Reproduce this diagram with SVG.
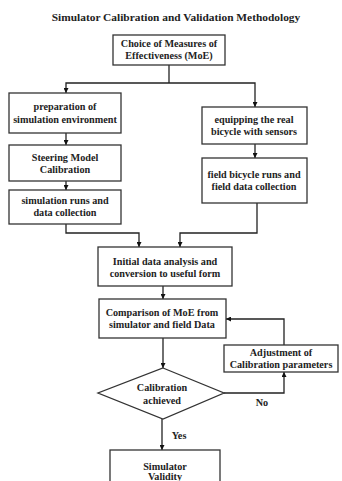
<svg xmlns="http://www.w3.org/2000/svg" width="342" height="481" viewBox="0 0 342 481">
<defs>
<marker id="ah" viewBox="0 0 10 10" refX="10" refY="5" markerWidth="5" markerHeight="5" orient="auto" markerUnits="userSpaceOnUse"><path d="M0,0 L10,5 L0,10 z" fill="#111"/></marker>
<style>
.box{fill:#fff;stroke:#333;stroke-width:1.3}
.t{font-family:"Liberation Serif","Times New Roman",serif;font-weight:bold;font-size:10.2px;fill:#222;text-anchor:middle}
.ttl{font-size:11.4px}
.c{fill:none;stroke:#222;stroke-width:1.3;marker-end:url(#ah)}
.l{fill:none;stroke:#222;stroke-width:1.3}
</style>
</defs>
<rect width="342" height="481" fill="#fff"/>
<text class="t ttl" x="176" y="21">Simulator Calibration and Validation Methodology</text>
<g id="connectors">
<path class="l" d="M169,65 V83"/>
<path class="c" d="M169,83 H66 V93"/>
<path class="c" d="M169,83 H255 V107"/>
<path class="c" d="M66,133 V145"/>
<path class="c" d="M66,181 V190"/>
<path class="c" d="M255,144 V158"/>
<path class="c" d="M66,224 V233 H139 V247"/>
<path class="c" d="M257,203 V233 H180 V247"/>
<path class="c" d="M163,286 V299"/>
<path class="c" d="M163,338 V368"/>
<path class="c" d="M284,345 V319 H226"/>
<path class="c" d="M224,393 H284 V372"/>
<path class="c" d="M162,419 V450"/>
<text class="t" x="262" y="406">No</text>
<text class="t" x="179" y="439">Yes</text>
</g>
<g id="moe"><rect class="box" x="113" y="35" width="112" height="30"/><text class="t" x="169" y="47">Choice of Measures of</text><text class="t" x="169" y="59">Effectiveness (MoE)</text></g>
<g id="prep"><rect class="box" x="9" y="93" width="112" height="40"/><text class="t" x="65" y="110">preparation of</text><text class="t" x="65" y="123">simulation environment</text></g>
<g id="steer"><rect class="box" x="9" y="145" width="112" height="36"/><text class="t" x="65" y="161">Steering Model</text><text class="t" x="65" y="173">Calibration</text></g>
<g id="simruns"><rect class="box" x="9" y="190" width="112" height="34"/><text class="t" x="65" y="204">simulation runs and</text><text class="t" x="65" y="216">data collection</text></g>
<g id="equip"><rect class="box" x="202" y="107" width="105" height="37"/><text class="t" x="254" y="123">equipping the real</text><text class="t" x="254" y="135">bicycle with sensors</text></g>
<g id="field"><rect class="box" x="202" y="158" width="105" height="45"/><text class="t" x="254" y="178">field bicycle runs and</text><text class="t" x="254" y="190">field data collection</text></g>
<g id="initial"><rect class="box" x="98" y="247" width="134" height="39"/><text class="t" x="165" y="265">Initial data analysis and</text><text class="t" x="165" y="277">conversion to useful form</text></g>
<g id="compare"><rect class="box" x="99" y="299" width="127" height="39"/><text class="t" x="162" y="316">Comparison of MoE from</text><text class="t" x="162" y="328">simulator and field Data</text></g>
<g id="adjust"><rect class="box" x="224" y="345" width="114" height="27"/><text class="t" x="281" y="356">Adjustment of</text><text class="t" x="281" y="368">Calibration parameters</text></g>
<g id="decision"><polygon class="box" points="163,368 224,393 163,419 98,393"/><text class="t" x="162" y="391">Calibration</text><text class="t" x="162" y="404">achieved</text></g>
<g id="validity"><rect class="box" x="110" y="450" width="110" height="40"/><text class="t" x="165" y="470">Simulator</text><text class="t" x="165" y="480">Validity</text></g>
</svg>
